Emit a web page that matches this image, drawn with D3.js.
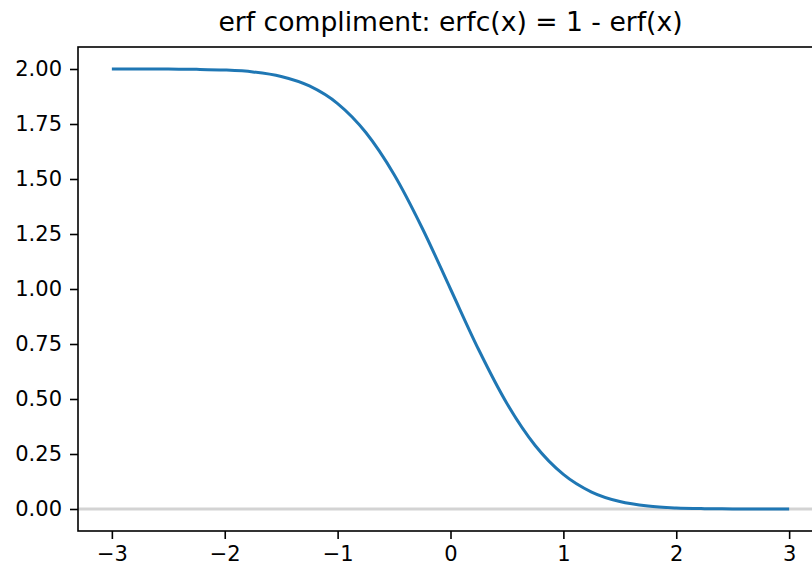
<!DOCTYPE html>
<html>
<head>
<meta charset="utf-8">
<script src="https://cdn.jsdelivr.net/npm/d3@7"></script>
<style>
  body { margin: 0; background: #fff; }
  svg { display: block; font-family: "DejaVu Sans", sans-serif; }
</style>
</head>
<body>
<svg id="chart" width="812" height="567"></svg>
<script>
// values
const xValues = [-3, -2.75, -2.5, -2.25, -2, -1.75, -1.5, -1.25, -1, -0.75, -0.5, -0.25,
  0, 0.25, 0.5, 0.75, 1, 1.25, 1.5, 1.75, 2, 2.25, 2.5, 2.75, 3]
const yValues = [2.0, 1.9999, 1.9996, 1.9985, 1.9953, 1.9867, 1.9661, 1.9229, 1.8427, 1.7112, 1.5205, 1.2763,
  1.0, 0.7237, 0.4795, 0.2888, 0.1573, 0.0771, 0.0339, 0.0133, 0.0047, 0.0015, 0.0004, 0.0001, 0.0]
const xTicks = [-3, -2, -1, 0, 1, 2, 3]
const yTicks = [0, 0.25, 0.5, 0.75, 1.0, 1.25, 1.5, 1.75, 2.0]
const title = 'erf compliment: erfc(x) = 1 - erf(x)'

const margin = { left: 78, top: 47, right: 823, bottom: 531 }

const svg = d3.select('#chart')

const x = d3.scaleLinear().domain([-3.3, 3.3]).range([margin.left, margin.right])
const y = d3.scaleLinear().domain([-0.1, 2.1]).range([margin.bottom, margin.top])

const points = xValues.map((v, i) => ({ x: v, y: yValues[i] }))

// horizontal reference line at zero
svg.append('line')
  .attr('x1', margin.left).attr('x2', margin.right)
  .attr('y1', y(0)).attr('y2', y(0))
  .attr('stroke', '#d3d3d3')
  .attr('stroke-width', 3)

// the curve
const line = d3.line()
  .x((d) => x(d.x))
  .y((d) => y(d.y))
  .curve(d3.curveMonotoneX)

svg.append('path')
  .datum(points)
  .attr('fill', 'none')
  .attr('stroke', '#1f77b4')
  .attr('stroke-width', 3)
  .attr('d', line)

// frame
svg.append('rect')
  .attr('x', margin.left).attr('y', margin.top)
  .attr('width', margin.right - margin.left)
  .attr('height', margin.bottom - margin.top)
  .attr('fill', 'none')
  .attr('stroke', '#000')
  .attr('stroke-width', 1.6)

// axes
const xAxis = svg.append('g')
  .attr('transform', `translate(0,${margin.bottom})`)
  .call(d3.axisBottom(x).tickValues(xTicks).tickSize(8).tickPadding(7)
    .tickFormat((d) => (d < 0 ? '\u2212' + Math.abs(d) : d)))
xAxis.select('.domain').remove()

const yAxis = svg.append('g')
  .attr('transform', `translate(${margin.left},0)`)
  .call(d3.axisLeft(y).tickValues(yTicks).tickSize(8).tickPadding(8).tickFormat(d3.format('.2f')))
yAxis.select('.domain').remove()

svg.selectAll('.tick line').attr('stroke', '#000').attr('stroke-width', 1.6)
svg.selectAll('.tick text')
  .attr('fill', '#000')
  .attr('font-family', '"DejaVu Sans", sans-serif')
  .attr('font-size', 21)

// title
svg.append('text')
  .attr('x', (margin.left + margin.right) / 2)
  .attr('y', 31)
  .attr('text-anchor', 'middle')
  .attr('font-size', 26.6)
  .attr('fill', '#000')
  .text(title)
</script>
</body>
</html>
